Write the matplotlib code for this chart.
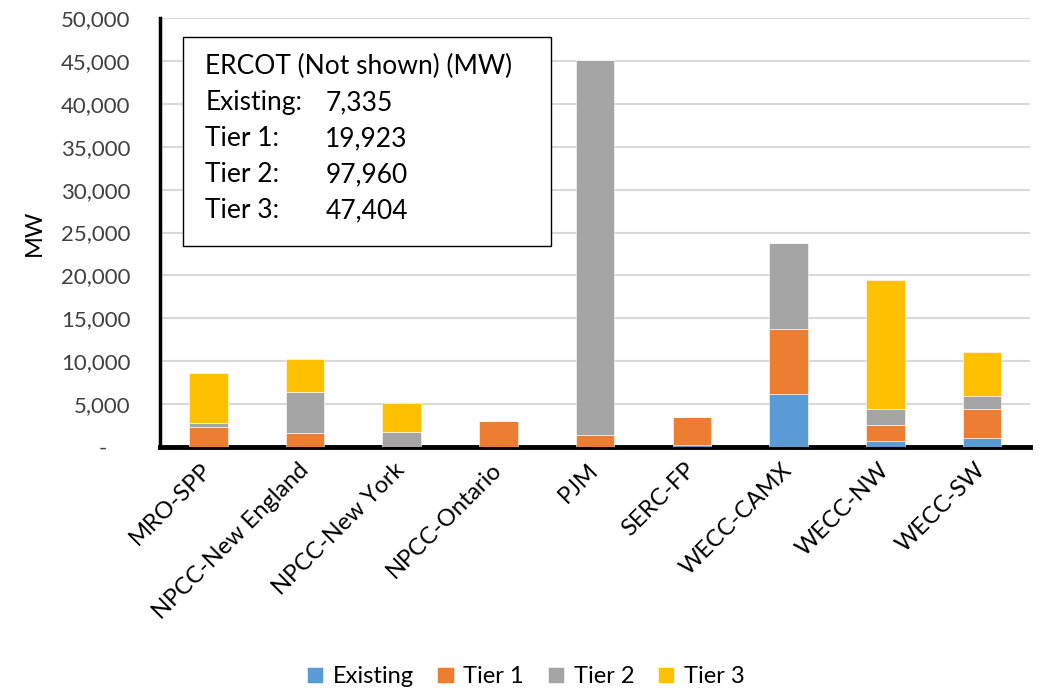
import matplotlib.pyplot as plt
import numpy as np
from matplotlib.ticker import FuncFormatter

plt.rcParams['font.family'] = ['Lato', 'DejaVu Sans']

regions = ["MRO-SPP", "NPCC-New England", "NPCC-New York", "NPCC-Ontario", "PJM",
           "SERC-FP", "WECC-CAMX", "WECC-NW", "WECC-SW"]
existing = [0, 0, 0, 0, 0, 200, 6130, 700, 1080]
tier1 = [2290, 1600, 0, 3020, 1350, 3250, 7660, 1860, 3380]
tier2 = [540, 4800, 1780, 0, 43750, 0, 9990, 1900, 1520]
tier3 = [5810, 3830, 3300, 0, 0, 0, 0, 14960, 5090]

series_names = ["Existing", "Tier 1", "Tier 2", "Tier 3"]
colors = ["#5B9BD5", "#ED7D31", "#A5A5A5", "#FFC000"]

ercot_lines = [("Existing:", "7,335"), ("Tier 1:", "19,923"),
               ("Tier 2:", "97,960"), ("Tier 3:", "47,404")]

fig = plt.figure(figsize=(10.45, 6.92), dpi=100)
ax = fig.add_axes([0.153, 0.354, 0.833, 0.62])

x = np.arange(len(regions))
bottom = np.zeros(len(regions))
for name, vals, c in zip(series_names, [existing, tier1, tier2, tier3], colors):
    vals = np.array(vals, dtype=float)
    ax.bar(x, vals, width=0.4, bottom=bottom, color=c, label=name,
           edgecolor='white', linewidth=0.4, zorder=3)
    bottom += vals

ax.set_xlim(-0.5, len(regions) - 0.5)
ax.set_ylim(0, 50000)
ax.set_yticks(np.arange(0, 50001, 5000))
ax.yaxis.set_major_formatter(FuncFormatter(lambda v, p: "-    " if v == 0 else f"{int(v):,}"))
ax.yaxis.grid(True, color='#d9d9d9', linewidth=1.5, zorder=0)
ax.set_axisbelow(True)
ax.tick_params(axis='y', length=0, pad=21, labelsize=16, labelcolor='#404040')
ax.tick_params(axis='x', length=0, pad=14, labelsize=17)
ax.set_xticks(x)
ax.set_xticklabels(regions, rotation=45, ha='right', va='center', rotation_mode='anchor')

for s in ['top', 'right']:
    ax.spines[s].set_visible(False)
ax.spines['left'].set_linewidth(2.5)
ax.spines['bottom'].set_linewidth(3.5)
ax.spines['left'].set_color('black')
ax.spines['bottom'].set_color('black')

ax.set_ylabel("MW", fontsize=17, labelpad=12)

# ERCOT note box
box = plt.Rectangle((0.027, 0.468), 0.422, 0.488, transform=ax.transAxes,
                    facecolor='white', edgecolor='black', linewidth=1.0, zorder=5)
ax.add_patch(box)
ax.text(0.052, 0.886, "ERCOT (Not shown) (MW)", transform=ax.transAxes,
        fontsize=19, va='center', ha='left', zorder=6)
for i, (lab, val) in enumerate(ercot_lines):
    yy = 0.886 - (i + 1) * 0.0839
    ax.text(0.052, yy, lab, transform=ax.transAxes, fontsize=19, va='center', ha='left', zorder=6)
    ax.text(0.19, yy, val, transform=ax.transAxes, fontsize=19, va='center', ha='left', zorder=6)

handles, labels = ax.get_legend_handles_labels()
fig.legend(handles, labels, loc='center', bbox_to_anchor=(0.503, 0.022), ncol=4,
           frameon=False, fontsize=17, handlelength=0.7, handleheight=0.7,
           handletextpad=0.4, columnspacing=1.0)

fig.savefig("out.png", dpi=100)
